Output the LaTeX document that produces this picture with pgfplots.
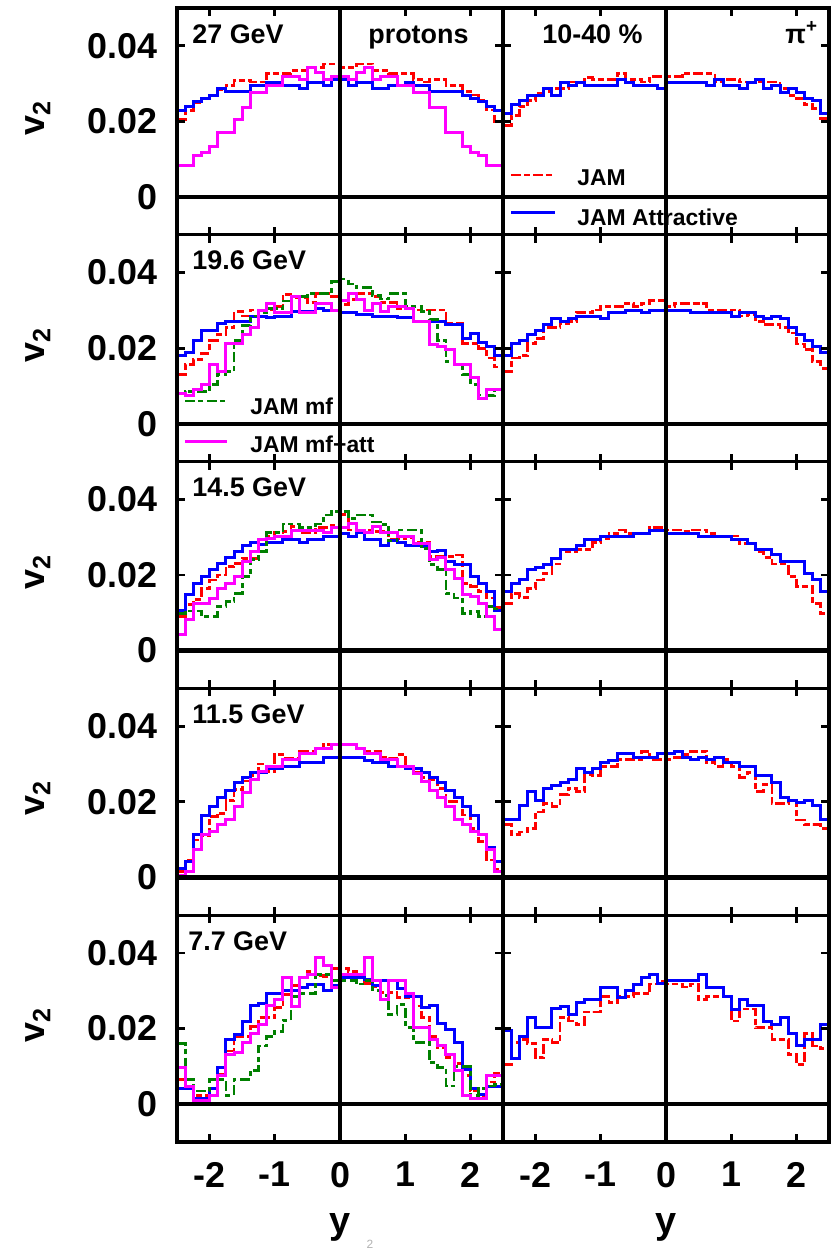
\documentclass[border=0pt]{standalone}
\usepackage{fontspec}
\setmainfont{Liberation Sans}
\usepackage{pgfplots}
\pgfplotsset{compat=1.18}
\usepackage{pgfplotstable}
\definecolor{jred}{RGB}{255,0,0}
\definecolor{jblue}{RGB}{0,0,255}
\definecolor{jgreen}{RGB}{0,128,0}
\definecolor{jmag}{RGB}{255,0,255}

% values in units of 0.001
\pgfplotstableread{
x b r m
-2.5 22.9 20.5 8.2
-2.375 24.0 22.9 8.2
-2.25 25.3 25.0 10.9
-2.125 26.0 26.0 11.7
-2 26.9 27.0 13.3
-1.875 28.6 28.5 17.0
-1.75 28.0 29.5 17.0
-1.625 28.0 30.8 20.6
-1.5 28.0 30.8 23.6
-1.375 29.5 30.4 27.7
-1.25 29.5 30.4 27.7
-1.125 30.4 32.7 29.5
-1 30.4 32.7 29.5
-0.875 29.5 32.7 31.9
-0.75 29.5 33.4 31.9
-0.625 28.6 33.4 31.1
-0.5 30.4 34.3 34.3
-0.375 30.4 34.3 33.0
-0.25 29.5 35.2 31.1
-0.125 31.1 35.2 31.9
0 31.1 34.3 31.9
0.125 29.5 34.3 31.1
0.25 30.4 35.2 33.0
0.375 30.4 35.2 34.3
0.5 28.6 33.4 31.1
0.625 28.6 33.4 31.9
0.75 29.5 32.7 31.9
0.875 29.5 32.7 29.5
1 30.4 32.7 29.5
1.125 29.5 31.1 27.7
1.25 29.5 30.4 27.7
1.375 28.0 31.1 23.6
1.5 28.0 31.1 23.6
1.625 28.0 29.5 17.0
1.75 28.0 29.5 17.0
1.875 26.9 28.0 13.3
2 26.0 27.0 11.7
2.125 25.3 25.5 10.9
2.25 24.0 23.0 8.2
2.375 22.9 20.0 8.2
2.5 22.9 20.0 8.2
}\tAL

\pgfplotstableread{
x b r
-2.5 22.1 19.0
-2.375 24.5 21.6
-2.25 25.4 24.0
-2.125 26.9 25.5
-2 26.9 27.5
-1.875 28.6 28.0
-1.75 26.9 28.6
-1.625 30.4 28.6
-1.5 29.5 30.4
-1.375 30.4 30.4
-1.25 29.5 31.7
-1.125 29.5 31.1
-1 29.5 31.1
-0.875 29.5 31.1
-0.75 31.1 32.7
-0.625 30.4 31.1
-0.5 29.5 31.1
-0.375 29.5 30.4
-0.25 29.5 31.9
-0.125 28.6 31.9
0 30.4 31.9
0.125 30.4 31.9
0.25 30.4 32.7
0.375 30.4 32.7
0.5 30.4 32.7
0.625 29.5 32.7
0.75 31.1 30.4
0.875 29.5 31.1
1 29.5 31.1
1.125 28.6 30.4
1.25 30.4 30.4
1.375 31.1 30.4
1.5 28.6 30.4
1.625 29.5 30.4
1.75 27.7 28.6
1.875 28.6 26.9
2 27.7 26.0
2.125 26.0 24.5
2.25 25.4 23.5
2.375 22.1 20.7
2.5 22.1 20.7
}\tAR

\pgfplotstableread{
x b r g m
-2.5 18.2 13.0 8.1 8.1
-2.375 18.9 15.6 8.5 7.5
-2.25 22.0 17.0 8.5 9.0
-2.125 24.7 18.7 8.5 10.5
-2 24.7 22.0 10.5 15.6
-1.875 26.5 23.7 13.0 13.8
-1.75 27.0 25.5 13.8 21.3
-1.625 27.0 29.7 22.0 21.3
-1.5 27.0 28.5 26.0 23.7
-1.375 28.5 30.1 28.5 25.5
-1.25 28.5 30.1 29.5 30.1
-1.125 28.0 30.1 30.5 31.9
-1 28.5 31.0 30.5 29.5
-0.875 28.5 34.3 32.5 29.5
-0.75 29.7 33.3 33.6 33.7
-0.625 29.7 33.3 33.6 29.5
-0.5 29.7 32.0 34.5 29.5
-0.375 30.4 34.5 34.5 31.9
-0.25 30.0 34.5 34.5 31.9
-0.125 30.0 33.7 37.6 30.1
0 29.4 31.5 38.3 32.5
0.125 29.4 32.8 37.0 34.5
0.25 29.0 34.5 36.0 32.8
0.375 29.0 34.5 36.0 30.1
0.5 28.5 33.7 34.0 31.9
0.625 28.5 32.0 33.0 29.7
0.75 28.5 32.0 34.5 31.0
0.875 28.0 30.5 34.5 31.0
1 28.0 30.5 31.0 30.4
1.125 27.0 30.1 31.0 27.0
1.25 27.0 30.1 29.7 27.0
1.375 27.0 30.1 27.5 21.1
1.5 27.0 30.1 22.0 20.5
1.625 26.2 26.5 16.5 19.6
1.75 26.2 26.5 15.6 15.6
1.875 22.5 21.3 13.0 15.6
2 24.0 21.3 10.3 12.3
2.125 21.5 20.0 7.6 6.8
2.25 20.5 17.4 7.5 9.0
2.375 18.2 15.0 9.0 9.0
2.5 18.2 15.0 9.0 9.0
}\tBL

\pgfplotstableread{
x b r
-2.5 18.1 13.8
-2.375 21.3 17.4
-2.25 22.0 18.0
-2.125 23.7 21.3
-2 24.7 22.5
-1.875 26.2 25.5
-1.75 27.8 25.5
-1.625 27.1 26.5
-1.5 27.8 27.0
-1.375 28.5 29.5
-1.25 28.5 29.5
-1.125 28.5 30.1
-1 27.8 31.0
-0.875 29.4 31.0
-0.75 29.4 31.0
-0.625 30.1 31.9
-0.5 30.1 31.0
-0.375 29.4 31.9
-0.25 30.1 32.6
-0.125 30.1 32.6
0 30.1 31.0
0.125 30.1 31.9
0.25 30.1 31.9
0.375 29.4 31.9
0.5 29.4 31.9
0.625 29.4 30.1
0.75 29.4 30.1
0.875 29.4 30.1
1 28.5 30.1
1.125 29.4 28.5
1.25 29.4 29.0
1.375 28.5 27.0
1.5 27.8 26.2
1.625 28.5 26.2
1.75 27.8 25.5
1.875 25.5 24.0
2 23.5 21.1
2.125 22.0 19.6
2.25 20.4 16.5
2.375 18.9 14.7
2.5 18.9 14.7
}\tBR

\pgfplotstableread{
x b r g m
-2.5 10.6 9.1 9.9 4.2
-2.375 14.8 12.1 10.5 8.2
-2.25 17.8 13.5 10.5 12.4
-2.125 19.6 16.5 9.1 12.4
-2 21.5 18.7 9.1 13.9
-1.875 23.1 20.0 11.7 16.3
-1.75 24.6 22.2 13.0 17.8
-1.625 26.2 23.1 15.2 19.6
-1.5 27.7 24.4 19.6 23.6
-1.375 28.5 24.4 24.0 26.2
-1.25 28.0 29.5 26.2 29.3
-1.125 28.6 30.3 31.2 29.7
-1 28.6 31.2 31.2 30.3
-0.875 29.5 31.5 33.5 30.3
-0.75 29.5 32.8 33.5 31.9
-0.625 28.6 31.2 32.6 31.9
-0.5 29.5 31.2 32.6 31.9
-0.375 29.5 32.5 33.5 31.9
-0.25 30.3 32.5 35.9 31.2
-0.125 30.3 33.2 36.7 32.6
0 31.0 36.1 36.7 32.6
0.125 30.3 31.9 35.0 33.5
0.25 31.2 31.9 35.9 31.9
0.375 29.5 31.9 35.9 31.2
0.5 29.5 31.5 34.0 32.8
0.625 27.7 31.5 33.3 31.2
0.75 29.0 29.5 29.0 31.2
0.875 28.5 29.5 31.9 30.3
1 27.7 30.0 31.9 30.3
1.125 27.7 28.5 31.9 28.4
1.25 27.5 28.5 27.0 28.4
1.375 26.2 24.9 22.7 24.0
1.5 26.5 24.9 21.4 24.6
1.625 23.6 24.9 15.2 21.5
1.75 22.9 25.3 13.9 19.2
1.875 22.9 17.8 9.8 14.8
2 19.6 17.0 10.4 14.2
2.125 17.8 15.6 9.1 12.4
2.25 15.6 13.9 11.7 8.9
2.375 10.6 11.5 11.0 5.5
2.5 10.6 11.5 11.0 5.5
}\tCL

\pgfplotstableread{
x b r
-2.5 15.6 12.4
-2.375 17.8 15.2
-2.25 18.7 14.0
-2.125 21.4 16.5
-2 22.1 18.7
-1.875 22.9 20.5
-1.75 24.4 22.9
-1.625 26.8 26.2
-1.5 26.8 26.2
-1.375 27.7 26.8
-1.25 29.5 26.8
-1.125 29.5 28.5
-1 30.3 29.5
-0.875 30.3 31.0
-0.75 30.3 31.9
-0.625 30.3 31.0
-0.5 31.0 31.0
-0.375 31.0 31.0
-0.25 31.9 32.6
-0.125 31.9 32.6
0 31.0 31.9
0.125 31.0 31.9
0.25 31.0 31.5
0.375 31.0 31.9
0.5 30.3 31.9
0.625 30.3 31.0
0.75 30.3 30.3
0.875 30.3 30.3
1 29.5 30.3
1.125 29.5 28.4
1.25 28.4 28.4
1.375 26.8 26.2
1.5 26.8 24.6
1.625 25.3 22.9
1.75 23.7 22.9
1.875 23.7 19.6
2 23.7 17.0
2.125 20.5 17.0
2.25 18.7 12.4
2.375 15.6 9.8
2.5 15.6 9.8
}\tCR

\pgfplotstableread{
x b r m
-2.5 2.4 1.5 0.6
-2.375 4.2 4.6 1.5
-2.25 11.4 9.9 7.3
-2.125 16.5 11.0 11.4
-2 18.8 16.1 12.1
-1.875 21.2 17.0 13.9
-1.75 22.9 20.3 15.2
-1.625 25.2 23.2 18.8
-1.5 26.3 25.5 22.5
-1.375 27.8 27.0 26.0
-1.25 27.8 30.0 28.0
-1.125 28.9 28.1 29.4
-1 28.9 32.5 29.4
-0.875 29.4 31.5 31.2
-0.75 29.4 31.5 31.2
-0.625 30.3 33.4 32.7
-0.5 30.3 33.4 32.7
-0.375 30.3 34.2 34.2
-0.25 31.8 35.1 34.2
-0.125 31.8 35.1 35.1
0 31.8 35.1 35.1
0.125 31.8 35.1 35.1
0.25 31.8 34.2 34.2
0.375 31.0 33.4 32.7
0.5 30.3 33.4 32.7
0.625 30.3 31.8 31.2
0.75 29.4 31.5 31.2
0.875 29.4 32.5 29.4
1 28.9 29.4 29.4
1.125 28.9 27.8 27.5
1.25 27.8 26.5 25.5
1.375 26.3 25.8 23.0
1.5 25.2 23.6 21.2
1.625 22.9 20.1 18.8
1.75 21.2 20.1 15.2
1.875 18.8 16.5 13.9
2 16.5 13.0 12.1
2.125 11.4 9.6 11.4
2.25 8.0 4.6 7.3
2.375 4.2 2.0 1.5
2.5 4.2 2.0 1.5
}\tDL

\pgfplotstableread{
x b r
-2.5 15.2 13.9
-2.375 15.2 11.4
-2.25 18.9 12.0
-2.125 22.7 13.0
-2 20.4 17.3
-1.875 23.6 19.5
-1.75 24.3 18.8
-1.625 25.1 21.9
-1.5 26.0 23.6
-1.375 28.7 22.7
-1.25 27.8 27.2
-1.125 28.7 27.0
-1 30.3 29.4
-0.875 31.0 29.4
-0.75 32.7 31.2
-0.625 32.7 31.2
-0.5 31.8 31.2
-0.375 31.8 33.4
-0.25 31.8 31.2
-0.125 32.7 31.2
0 32.7 31.2
0.125 33.4 31.8
0.25 31.8 32.5
0.375 31.2 33.4
0.5 31.8 33.4
0.625 31.2 30.3
0.75 31.8 29.4
0.875 30.3 31.2
1 30.3 29.4
1.125 29.4 26.5
1.25 29.4 27.8
1.375 27.0 22.7
1.5 27.0 24.5
1.625 25.1 19.6
1.75 21.2 19.6
1.875 20.4 20.5
2 19.7 15.2
2.125 20.4 13.9
2.25 18.9 13.9
2.375 15.2 13.0
2.5 15.2 13.0
}\tDR

\pgfplotstableread{
x b r g m
-2.5 4.1 6.6 16.0 9.7
-2.375 4.1 4.8 6.6 4.8
-2.25 1.5 2.4 3.5 0.9
-2.125 1.5 2.4 3.5 0.9
-2 4.1 4.1 6.6 2.4
-1.875 9.7 8.0 6.6 7.5
-1.75 17.0 14.1 2.4 13.2
-1.625 18.5 18.0 6.6 13.8
-1.5 22.0 18.0 6.6 16.3
-1.375 26.0 20.5 9.0 18.7
-1.25 26.6 22.9 15.4 21.1
-1.125 29.3 22.9 18.0 26.1
-1 29.3 25.5 19.3 27.7
-0.875 30.2 29.0 22.2 33.4
-0.75 30.2 31.5 28.4 25.9
-0.625 31.0 33.4 29.2 33.4
-0.5 31.8 35.2 29.2 34.3
-0.375 31.8 34.0 34.3 38.9
-0.25 30.0 33.8 34.3 36.7
-0.125 31.5 35.8 32.7 30.8
0 33.4 35.8 32.7 34.3
0.125 33.4 35.2 32.7 34.3
0.25 33.4 34.0 31.8 34.3
0.375 33.0 32.0 32.7 38.9
0.5 31.5 31.0 30.0 32.7
0.625 32.7 29.5 28.8 27.7
0.75 32.7 29.6 23.7 32.7
0.875 30.5 28.3 26.3 32.7
1 28.6 28.3 20.2 29.3
1.125 28.6 26.0 16.3 20.2
1.25 25.5 22.9 16.3 20.2
1.375 26.1 18.0 11.0 17.1
1.5 21.4 15.0 9.7 15.4
1.625 19.8 12.3 4.8 13.2
1.75 16.3 10.7 10.0 9.0
1.875 9.1 7.5 10.0 2.4
2 4.1 3.5 2.2 1.5
2.125 2.5 2.2 4.1 1.5
2.25 4.8 5.9 4.8 7.5
2.375 4.8 8.2 5.3 7.5
2.5 4.8 8.2 5.3 7.5
}\tEL

\pgfplotstableread{
x b r
-2.5 19.5 10.5
-2.375 12.0 16.3
-2.25 18.0 17.1
-2.125 22.9 16.0
-2 20.2 12.3
-1.875 20.2 17.1
-1.75 25.2 16.3
-1.625 25.9 22.9
-1.5 23.7 22.0
-1.375 26.8 21.1
-1.25 27.7 24.4
-1.125 27.7 24.4
-1 31.0 28.4
-0.875 31.0 27.0
-0.75 28.2 28.4
-0.625 30.2 28.4
-0.5 31.8 29.2
-0.375 33.4 29.2
-0.25 34.3 31.8
-0.125 32.0 32.5
0 32.7 31.8
0.125 32.7 31.8
0.25 32.7 31.0
0.375 32.7 31.8
0.5 34.3 27.7
0.625 31.0 28.4
0.75 31.0 28.4
0.875 28.4 28.4
1 25.0 22.0
1.125 27.7 25.2
1.25 26.1 25.2
1.375 26.1 20.2
1.5 22.0 20.2
1.625 21.0 17.1
1.75 22.9 17.1
1.875 18.6 13.2
2 15.6 10.5
2.125 17.0 18.6
2.25 17.0 15.4
2.375 21.1 14.7
2.5 21.1 14.7
}\tER

\pgfplotsset{
  panel/.style={
    scale only axis, width=163bp, height=113.4bp,
    anchor=north west,
    xmin=-2.5, xmax=2.5, ymin=-10, ymax=50,
    xtick={-2,-1,0,1,2}, ytick={0,20,40},
    xticklabels={}, yticklabels={},
    tick align=inside,
    major tick length=4bp,
    axis line style={line width=1.6bp},
    tick style={black, line width=1.4bp},
    tick label style={font=\fontsize{18}{18}\selectfont\bfseries},
    xticklabel style={yshift=-6.5bp},
    yticklabel style={xshift=-6.5bp},
    axis on top,
  },
  leftcol/.style={yticklabels={0,0.02,0.04}},
  bottomrow/.style={xticklabels={-2,-1,0,1,2}},
  cred/.style={jred, line width=1.4bp, const plot, dash pattern=on 5bp off 1.5bp on 3bp off 1.5bp},
  cblue/.style={jblue, line width=1.5bp, const plot},
  cgreen/.style={jgreen, line width=1.4bp, const plot, dash pattern=on 5bp off 1.5bp on 2.5bp off 2bp},
  cmag/.style={jmag, line width=1.5bp, const plot},
}

\newcommand{\zerolines}{%
  \draw[black, line width=2.2bp] (axis cs:0,-10) -- (axis cs:0,50);
  \draw[black, line width=2.2bp] (axis cs:-2.5,0) -- (axis cs:2.5,0);
}

\begin{document}
\begin{tikzpicture}
\useasboundingbox (0,0) rectangle (417bp,-625.5bp);

% row 1
\begin{axis}[panel, leftcol, at={(88.5bp,-4bp)}]
\addplot[cred] table[x=x,y=r] {\tAL};
\addplot[cblue] table[x=x,y=b] {\tAL};
\addplot[cmag] table[x=x,y=m] {\tAL};
\zerolines
\end{axis}
\begin{axis}[panel, at={(251.5bp,-4bp)}]
\addplot[cred] table[x=x,y=r] {\tAR};
\addplot[cblue] table[x=x,y=b] {\tAR};
\zerolines
\end{axis}

% row 2
\begin{axis}[panel, leftcol, at={(88.5bp,-117.4bp)}]
\addplot[cred] table[x=x,y=r] {\tBL};
\addplot[cblue] table[x=x,y=b] {\tBL};
\addplot[cgreen] table[x=x,y=g] {\tBL};
\addplot[cmag] table[x=x,y=m] {\tBL};
\zerolines
\end{axis}
\begin{axis}[panel, at={(251.5bp,-117.4bp)}]
\addplot[cred] table[x=x,y=r] {\tBR};
\addplot[cblue] table[x=x,y=b] {\tBR};
\zerolines
\end{axis}

% row 3
\begin{axis}[panel, leftcol, at={(88.5bp,-230.8bp)}]
\addplot[cred] table[x=x,y=r] {\tCL};
\addplot[cblue] table[x=x,y=b] {\tCL};
\addplot[cgreen] table[x=x,y=g] {\tCL};
\addplot[cmag] table[x=x,y=m] {\tCL};
\zerolines
\end{axis}
\begin{axis}[panel, at={(251.5bp,-230.8bp)}]
\addplot[cred] table[x=x,y=r] {\tCR};
\addplot[cblue] table[x=x,y=b] {\tCR};
\zerolines
\end{axis}

% row 4
\begin{axis}[panel, leftcol, at={(88.5bp,-344.2bp)}]
\addplot[cred] table[x=x,y=r] {\tDL};
\addplot[cblue] table[x=x,y=b] {\tDL};
\addplot[cmag] table[x=x,y=m] {\tDL};
\zerolines
\end{axis}
\begin{axis}[panel, at={(251.5bp,-344.2bp)}]
\addplot[cred] table[x=x,y=r] {\tDR};
\addplot[cblue] table[x=x,y=b] {\tDR};
\zerolines
\end{axis}

% row 5
\begin{axis}[panel, leftcol, bottomrow, at={(88.5bp,-457.6bp)}]
\addplot[cred] table[x=x,y=r] {\tEL};
\addplot[cblue] table[x=x,y=b] {\tEL};
\addplot[cgreen] table[x=x,y=g] {\tEL};
\addplot[cmag] table[x=x,y=m] {\tEL};
\zerolines
\end{axis}
\begin{axis}[panel, bottomrow, at={(251.5bp,-457.6bp)}]
\addplot[cred] table[x=x,y=r] {\tER};
\addplot[cblue] table[x=x,y=b] {\tER};
\zerolines
\end{axis}

% axis labels
\foreach \r in {0,...,4}{
  \node[rotate=90, inner sep=0, font=\fontsize{18}{18}\selectfont\bfseries]
    at (19bp,{-59bp-113.4bp*\r}) {v\textsubscript{2}};
}
\node[anchor=base, inner sep=0, font=\fontsize{19}{19}\selectfont\bfseries] at (170bp,-616.5bp) {y};
\node[anchor=base, inner sep=0, font=\fontsize{19}{19}\selectfont\bfseries] at (333bp,-616.5bp) {y};
\node[anchor=base, inner sep=0, text=gray!60, font=\fontsize{6}{6}\selectfont] at (185bp,-624bp) {2};

% panel texts
\tikzset{ptxt/.style={anchor=base west, inner sep=0, font=\fontsize{13.5}{13.5}\selectfont\bfseries}}
\node[ptxt] at (96bp,-21.5bp) {27 GeV};
\node[ptxt] at (96bp,-134.9bp) {19.6 GeV};
\node[ptxt] at (96bp,-248.3bp) {14.5 GeV};
\node[ptxt] at (96bp,-361.7bp) {11.5 GeV};
\node[ptxt] at (94bp,-475.1bp) {7.7 GeV};
\node[ptxt] at (184bp,-21.5bp) {protons};
\node[ptxt] at (271bp,-21.5bp) {10-40 \%};
\node[ptxt] at (392.5bp,-21.5bp) {π\textsuperscript{+}};

% legend
\tikzset{ltxt/.style={anchor=base west, inner sep=0, font=\fontsize{11.5}{11.5}\selectfont\bfseries}}
\draw[jred, line width=1.4bp, dash pattern=on 5bp off 1.5bp on 3bp off 1.5bp] (255.5bp,-87.5bp) -- (276.5bp,-87.5bp);
\node[ltxt] at (288.5bp,-92.5bp) {JAM};
\draw[jblue, line width=1.5bp] (255.5bp,-106bp) -- (277.5bp,-106bp);
\node[ltxt] at (288.5bp,-112.5bp) {JAM Attractive};
\draw[jgreen, line width=1.4bp, dash pattern=on 5bp off 1.5bp on 2.5bp off 2bp] (92.5bp,-200.5bp) -- (112.5bp,-200.5bp);
\node[ltxt] at (125bp,-207bp) {JAM mf};
\draw[jmag, line width=1.5bp] (92.5bp,-220.5bp) -- (113.5bp,-220.5bp);
\node[ltxt] at (125bp,-226bp) {JAM mf+att};
\end{tikzpicture}
\end{document}
